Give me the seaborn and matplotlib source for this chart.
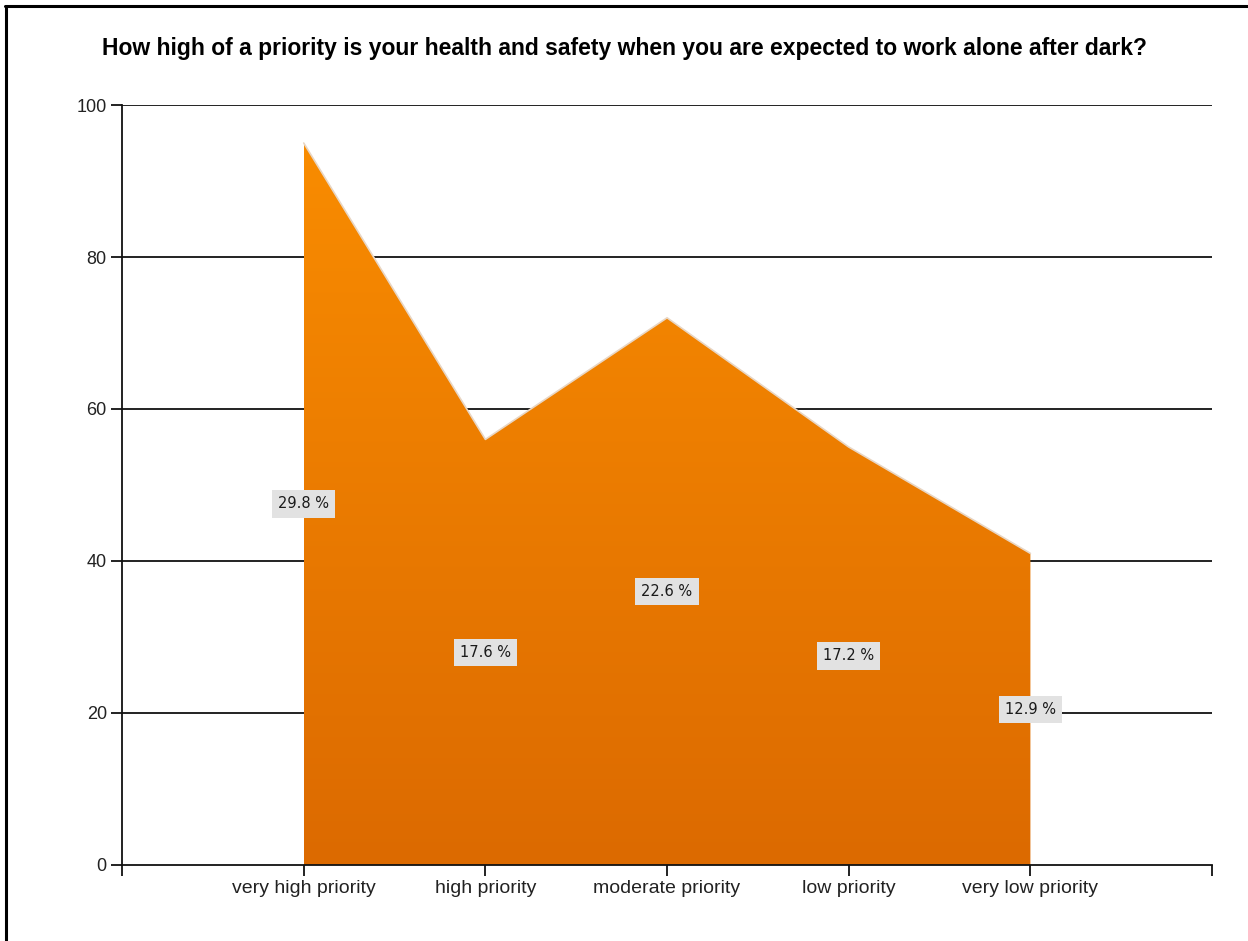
import numpy as np
import pandas as pd
import matplotlib
matplotlib.use("Agg")
import matplotlib.pyplot as plt
import seaborn as sns
from matplotlib.lines import Line2D
from matplotlib.colors import LinearSegmentedColormap

categories = ["very high priority", "high priority", "moderate priority", "low priority", "very low priority"]
counts = [95, 56, 72, 55, 41]
percent_labels = ["29.8 %", "17.6 %", "22.6 %", "17.2 %", "12.9 %"]
yticks = [0, 20, 40, 60, 80, 100]
title = "How high of a priority is your health and safety when you are expected to work alone after dark?"

df = pd.DataFrame({"category": categories, "count": counts, "label": percent_labels})
df["x"] = np.arange(len(df))

sns.set_theme(style="white")
plt.rcParams["font.family"] = ["Liberation Sans", "DejaVu Sans"]

fig = plt.figure(figsize=(12.48, 9.41), dpi=100)
ax = fig.add_axes([0.0978, 0.0808, 0.9712 - 0.0978, 0.8884 - 0.0808])

# gridlines behind
for yv in yticks[1:]:
    ax.axhline(yv, color="#111111", lw=1.3, zorder=0)

# area with gradient
poly = ax.fill_between(df["x"], df["count"], 0, color="none", lw=0, zorder=2)
sns.lineplot(data=df, x="x", y="count", ax=ax, color="#e8d6c4", lw=1.2, zorder=3)
cmap = LinearSegmentedColormap.from_list("og", ["#dc6a00", "#f98c00"])
grad = np.linspace(0, 1, 256).reshape(-1, 1)
im = ax.imshow(grad, cmap=cmap, aspect="auto", origin="lower",
               extent=[0, len(df) - 1, 0, max(counts)], zorder=2)
path = poly.get_paths()[0]
im.set_clip_path(path, transform=ax.transData)

# labels
for _, r in df.iterrows():
    ax.text(r["x"], r["count"] / 2, r["label"], ha="center", va="center", fontsize=10.5,
            color="#1a1a1a", family=["DejaVu Sans"], zorder=5,
            bbox=dict(boxstyle="square,pad=0.42", fc="#e2e2e2", ec="none"))

ax.set_xlim(-1, len(df))
ax.set_ylim(0, 100)
ax.set_xticks(list(range(-1, len(df) + 1)))
ax.set_xticklabels([""] + categories + [""], fontsize=14, color="#222222")
ax.set_yticks(yticks)
ax.set_yticklabels([str(v) for v in yticks], fontsize=13, color="#222222")
ax.tick_params(axis="both", direction="out", length=8, width=1.3, color="#111111",
               bottom=True, left=True, pad=3)
ax.set_xlabel("")
ax.set_ylabel("")
for s in ["top", "right"]:
    ax.spines[s].set_visible(False)
for s in ["left", "bottom"]:
    ax.spines[s].set_color("#111111")
    ax.spines[s].set_linewidth(1.3)
    ax.spines[s].set_zorder(4)

fig.text(0.5, 1 - 49 / 941, title, ha="center", va="center", fontsize=16.5,
         fontweight="bold", color="black")

# figure border (top and left)
fig.add_artist(Line2D([5 / 1248, 1.0], [1 - 5.5 / 941, 1 - 5.5 / 941], color="black", lw=2.2,
                      transform=fig.transFigure))
fig.add_artist(Line2D([5.5 / 1248, 5.5 / 1248], [0, 1 - 5.5 / 941], color="black", lw=2.2,
                      transform=fig.transFigure))

fig.savefig("out.png", dpi=100, facecolor="white")
